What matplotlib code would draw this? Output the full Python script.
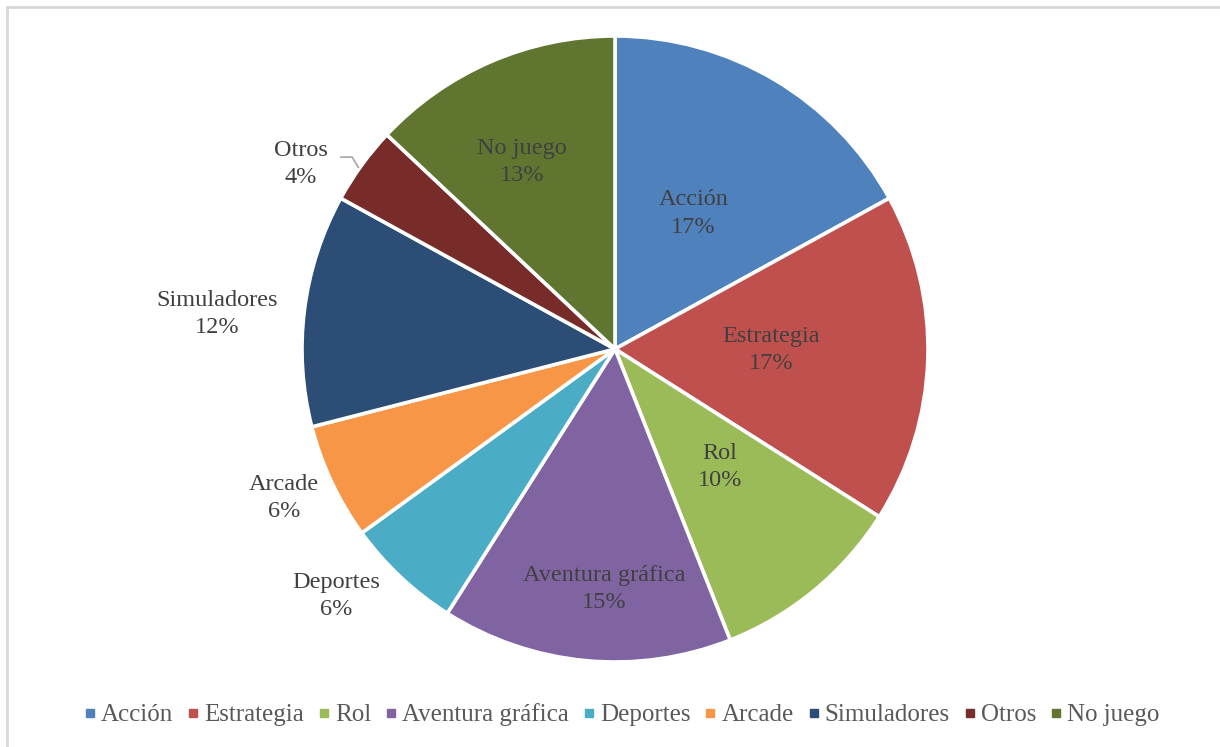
import matplotlib.pyplot as plt
from matplotlib.lines import Line2D
import numpy as np

generos = ['Acción', 'Estrategia', 'Rol', 'Aventura gráfica', 'Deportes',
           'Arcade', 'Simuladores', 'Otros', 'No juego']
porcentajes = [17, 17, 10, 15, 6, 6, 12, 4, 13]
colores = ['#4F81BD', '#C0504D', '#9BBB59', '#8064A2', '#4BACC6',
           '#F79646', '#2C4D75', '#772C2A', '#5F7530']

# colocación de las etiquetas: distancia al centro (en radios) y
# giro respecto al ángulo medio del sector (grados, sentido horario)
dist_etiqueta = [0.50, 0.50, 0.505, 0.767, 1.19, 1.16, 1.277, 1.164, 0.667]
giro_etiqueta = [-0.6, -1.4, -2.1, -2.8, 5.3, 1.0, -2.2, -5.5, -3.0]

plt.rcParams['font.family'] = ['Liberation Serif', 'DejaVu Serif']

fig = plt.figure(figsize=(12.2, 7.47), dpi=100)
ax = fig.add_axes([0, 0, 1, 1])

cx, cy, R = 615, 398, 313
wedges, _ = ax.pie(porcentajes, colors=colores, startangle=90, counterclock=False,
                   center=(cx, cy), radius=R,
                   wedgeprops=dict(edgecolor='white', linewidth=2.6))

for w, nombre, p, d, g in zip(wedges, generos, porcentajes, dist_etiqueta, giro_etiqueta):
    medio = np.deg2rad((w.theta1 + w.theta2) / 2)
    ang = medio - np.deg2rad(g)
    x = cx + d * R * np.cos(ang)
    y = cy + d * R * np.sin(ang)
    ax.text(x, y, f'{nombre}\n{p}%', ha='center', va='center',
            multialignment='center', fontsize=17.5, color='#404040', linespacing=1.4)
    if nombre == 'Otros':
        # línea guía hasta el borde del sector
        ex = cx + R * np.cos(medio)
        ey = cy + R * np.sin(medio)
        ax.plot([x + 39, x + 51, ex - 3], [y + 7, y + 7, ey - 3],
                color='#A6A6A6', lw=1.2, solid_capstyle='butt')

# marco del gráfico
ax.plot([7, 7], [0, 740], color='#D9D9D9', lw=2)
ax.plot([7, 1220], [740, 740], color='#D9D9D9', lw=2)

ax.set_xlim(0, 1220)
ax.set_ylim(0, 747)
ax.axis('off')

handles = [Line2D([], [], marker='s', ls='none', color=c, markersize=5.8) for c in colores]
fig.legend(handles, generos, loc='center', bbox_to_anchor=(0.51, 0.043), ncol=9,
           frameon=False, fontsize=18, handlelength=0.4, handletextpad=0.24,
           columnspacing=0.6, labelcolor='#595959')

fig.savefig('out.png', dpi=100)
